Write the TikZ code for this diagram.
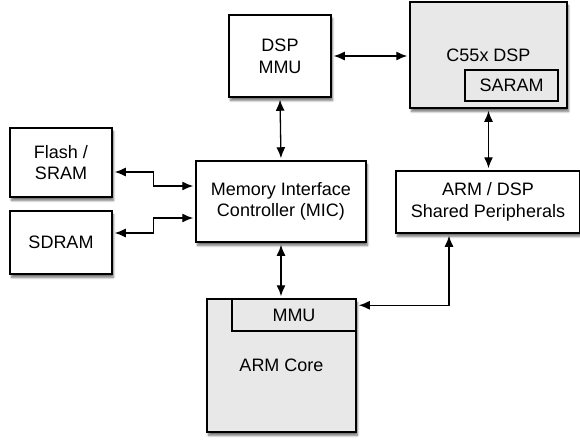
\documentclass[tikz,border=0pt]{standalone}
\usepackage{fontspec}
\setmainfont{Liberation Sans}
\usetikzlibrary{arrows.meta,shadows.blur}
\definecolor{boxgray}{gray}{0.91}
\begin{document}
\begin{tikzpicture}
[x=1pt,y=-1pt,%
  every node/.style={shape=rectangle,draw,line width=1.5pt,align=center,inner sep=0pt,%
    font=\fontsize{18}{21.6}\selectfont},%
  unit/.style={fill=white,blur shadow={shadow xshift=1.5pt,shadow yshift=-3.5pt,shadow blur steps=6,shadow opacity=55}},%
  core/.style={unit,fill=boxgray},%
  part/.style={fill=boxgray,line width=1.1pt},%
  bus/.style={{Latex[length=11pt,width=9pt]}-{Latex[length=11pt,width=9pt]},line width=1.3pt,shorten <=2pt,shorten >=2pt}]
\useasboundingbox (0,0) rectangle (580,440);
\node[unit,minimum width=102pt,minimum height=69pt] (flash) at (61,162.5) {Flash /\\SRAM};
\node[unit,minimum width=102pt,minimum height=63pt] (sdram) at (61,242.5) {SDRAM};
\node[unit,minimum width=102pt,minimum height=82pt] (dspmmu) at (280,56) {DSP\\MMU};
\node[core,minimum width=157pt,minimum height=106pt] (c55x) at (488.5,55) {C55x DSP};
\node[part,minimum width=93pt,minimum height=31pt] (saram) at (511.5,85.5) {SARAM};
\node[unit,minimum width=170pt,minimum height=81pt] (mic) at (281,201.5) {Memory Interface\\Controller (MIC)};
\node[unit,minimum width=184pt,minimum height=62pt] (shared) at (488,202) {ARM / DSP\\Shared Peripherals};
\node[core,minimum width=149pt,minimum height=133pt] (armcore) at (281.5,365.5) {ARM Core};
\node[part,minimum width=124pt,minimum height=32pt] (mmu) at (294,315) {MMU};
\draw[bus] (dspmmu.east) -- (dspmmu.east -| c55x.west);
\draw[bus] (dspmmu.south) -- (mic.north);
\draw[bus] (c55x.south) -- (c55x.south |- shared.north);
\draw[bus] (mic.south) -- (mic.south |- armcore.north);
\draw[bus] ([yshift=-9.5pt]flash.east) -- ++(41,0) |- ([yshift=15.5pt]mic.west);
\draw[bus] ([yshift=9.5pt]sdram.east) -- ++(41,0) |- ([yshift=-16.5pt]mic.west);
\draw[bus] ([xshift=-39pt]shared.south) |- ([yshift=-7pt]armcore.north east);
\end{tikzpicture}
\end{document}
